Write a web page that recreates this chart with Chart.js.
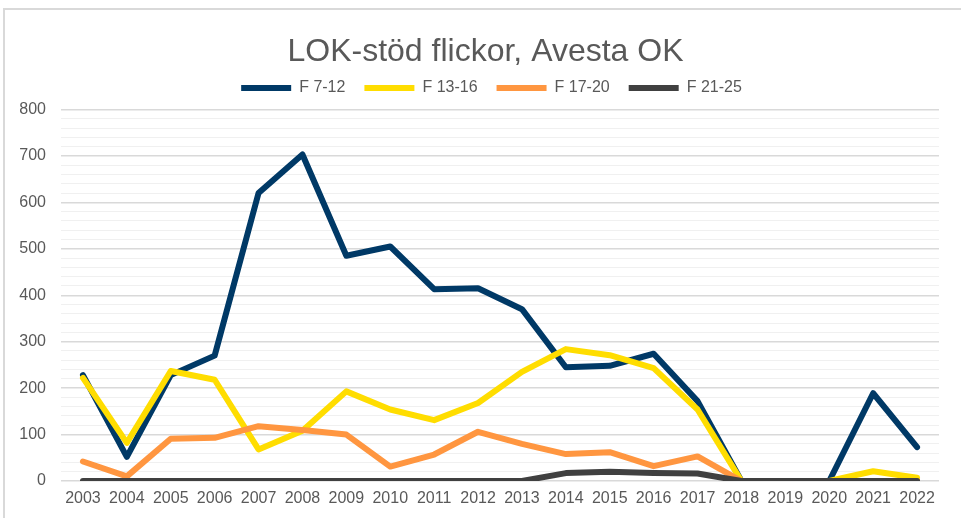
<!DOCTYPE html>
<html>
<head>
  <meta charset="UTF-8">
  <title>LOK-stöd flickor, Avesta OK</title>
  <script src="https://cdn.jsdelivr.net/npm/chart.js"></script>
  <style>
    html, body { margin: 0; padding: 0; background: #fff; overflow: hidden; }
    #wrap { position: relative; width: 961px; height: 518px; }
    #ram { position: absolute; left: 3px; top: 8px; width: 2000px; height: 2000px;
           border-left: 2px solid #d9d9d9; border-top: 2px solid #d9d9d9; }
    #lokChart { position: absolute; left: 0; top: 0; }
  </style>
</head>
<body>
<div id="wrap">
  <div id="ram"></div>
  <canvas id="lokChart" width="961" height="518"></canvas>
</div>

<script>
  // År (kategorier)
  const years = ['2003', '2004', '2005', '2006', '2007', '2008', '2009', '2010', '2011', '2012',
                 '2013', '2014', '2015', '2016', '2017', '2018', '2019', '2020', '2021', '2022'];

  // Serier
  const f7_12  = [228, 52, 228, 270, 620, 703, 485, 505, 413, 415, 370, 245, 248, 274, 172, 0, 0, 0, 189, 73];
  const f13_16 = [222, 82, 237, 218, 68, 108, 193, 154, 131, 168, 235, 284, 271, 243, 154, 0, 0, 0, 21, 7];
  const f17_20 = [42, 10, 91, 93, 118, 110, 100, 31, 57, 106, 80, 58, 62, 32, 53, 0, 0, 0, 0, 0];
  const f21_25 = [0, 0, 0, 0, 0, 0, 0, 0, 0, 0, 0, 17, 20, 17, 16, 0, 0, 0, 0, 0];

  // Y-axel
  const yMin = 0;
  const yMax = 800;
  const yStep = 20;      // hjälplinjer
  const yLabelStep = 100;

  const textColor = '#595959';
  const fontFamily = '"Liberation Sans", Arial, sans-serif';

  function serie(label, data, color, order) {
    return {
      label: label,
      data: data,
      borderColor: color,
      backgroundColor: color,
      borderWidth: 6,
      borderCapStyle: 'round',
      borderJoinStyle: 'round',
      pointRadius: 0,
      pointHoverRadius: 0,
      tension: 0,
      fill: false,
      order: order
    };
  }

  // flyttar rubrik och förklaring lite åt höger, som i originalet
  const flyttaRubrik = {
    id: 'flyttaRubrik',
    afterLayout(chart) {
      if (chart.titleBlock) { chart.titleBlock.left += 16; chart.titleBlock.right += 16; }
      if (chart.legend) { chart.legend.left += 22; chart.legend.right += 22; }
    }
  };

  const ctx = document.getElementById('lokChart').getContext('2d');
  const lokChart = new Chart(ctx, {
    type: 'line',
    data: {
      labels: years,
      datasets: [
        serie('F 7-12', f7_12, '#003966', 4),
        serie('F 13-16', f13_16, '#ffdd00', 3),
        serie('F 17-20', f17_20, '#ff9640', 2),
        serie('F 21-25', f21_25, '#404040', 1)
      ]
    },
    plugins: [flyttaRubrik],
    options: {
      responsive: false,
      animation: false,
      layout: { padding: { left: 0, right: 22, top: 2.5, bottom: 0 } },
      plugins: {
        title: {
          display: true,
          text: 'LOK-stöd flickor, Avesta OK',
          color: textColor,
          font: { family: fontFamily, size: 32, weight: 'normal', lineHeight: 0.5 },
          padding: { top: 42, bottom: 0.5 }
        },
        subtitle: {
          // tomt mellanrum mellan förklaring och diagramyta
          display: true,
          text: '',
          weight: 500,
          font: { size: 3.5, lineHeight: 1 },
          padding: 0
        },
        legend: {
          display: true,
          position: 'top',
          labels: {
            color: textColor,
            font: { family: fontFamily, size: 16 },
            usePointStyle: true,
            pointStyle: 'line',
            pointStyleWidth: 50,
            padding: 19,
            sort: (a, b) => a.datasetIndex - b.datasetIndex
          }
        },
        tooltip: { enabled: false }
      },
      scales: {
        x: {
          offset: true,
          grid: { display: false, drawTicks: false },
          border: { display: false },
          ticks: {
            color: textColor,
            font: { family: fontFamily, size: 16 },
            padding: 8,
            autoSkip: false,
            maxRotation: 0
          },
          afterFit: (scale) => { scale.height = 37; }
        },
        y: {
          min: yMin,
          max: yMax,
          border: { display: false },
          grid: {
            drawTicks: false,
            color: (c) => (c.tick && c.tick.value % yLabelStep === 0) ? '#d9d9d9' : '#f0f0f0',
            lineWidth: (c) => (c.tick && c.tick.value % yLabelStep === 0) ? 1.5 : 1
          },
          ticks: {
            stepSize: yStep,
            autoSkip: false,
            color: textColor,
            font: { family: fontFamily, size: 16 },
            padding: 15,
            callback: (v) => (v % yLabelStep === 0) ? v : ''
          },
          afterFit: (scale) => { scale.width = 61; }
        }
      }
    }
  });
</script>
</body>
</html>
